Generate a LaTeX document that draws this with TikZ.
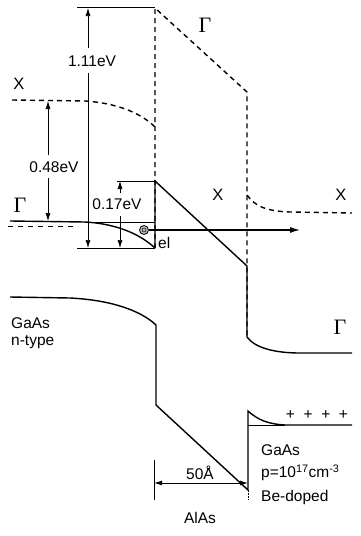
\documentclass[tikz,border=0pt]{standalone}
\usepackage{fontspec}
\setmainfont{Liberation Sans}
\newfontfamily\gfont{Liberation Serif}
\usetikzlibrary{arrows.meta}
\begin{document}
\begin{tikzpicture}[x=1pt,y=-1pt,
  band/.style={line width=1.4pt},
  dband/.style={line width=1.4pt,dash pattern=on 5pt off 4pt},
  thin/.style={line width=0.7pt},
  dim/.style={line width=0.7pt,-{Latex[length=8pt,width=5pt]}},
  lbl/.style={font=\fontsize{15.5}{17}\selectfont,inner sep=0pt},
  xlbl/.style={font=\fontsize{16.5}{18}\selectfont,inner sep=0pt},
  glbl/.style={font=\gfont\fontsize{22}{23}\selectfont,inner sep=0pt}]
\useasboundingbox (0,0) rectangle (360,536);
\coordinate (topL) at (77,7);
\coordinate (topR) at (155,7);
% ---- conduction band ----
\draw[band] (10,221) -- (85,222) .. controls (120,224) and (142,236) .. (155,248);
\draw[thin] (85,222) -- (155,222);
\draw[line width=1pt,dash pattern=on 5pt off 5pt] (8,226) -- (78,226);
\draw[dband] (12,100) -- (85,101) .. controls (115,103) and (140,112) .. (155,127);
\draw[thin] (topL) -- (topR);
\draw[dband] (155,248) -- (155,8) -- (247,92) -- (247,337);
\draw[band] (155,248) -- (155,181) -- (247,266) -- (247,337)
  .. controls (255,348) and (275,353) .. (300,353) -- (352,353);
\draw[dband] (247,195) .. controls (255,206) and (265,211) .. (290,212) -- (352,213);
\draw[thin] (77,248) -- (155,248);
\draw[thin] (117,181) -- (155,181);
% electron and arrow
\node[circle,draw,line width=0.8pt,fill=gray!55,minimum size=9pt,inner sep=0pt] (el) at (144,230) {};
\draw[line width=0.5pt] (el.center) circle (2pt);
\draw[line width=1.2pt,-{Latex[length=10pt,width=6pt]}] (el.east) -- (300,230);
\node[lbl,anchor=west] (ellbl) at (158,243) {el};
% energy arrows
\draw[dim] (88,48) -- (88,8);
\draw[dim] (88,73) -- (88,248);
\node[lbl] (e111) at (92,61) {1.11eV};
\draw[dim] (48,155) -- (48,101);
\draw[dim] (48,178) -- (48,221);
\node[lbl] (e048) at (54,167) {0.48eV};
\draw[dim] (120,193) -- (120,181);
\draw[dim] (120,216) -- (120,248);
\node[lbl] (e017) at (117,204) {0.17eV};
% ---- valence band ----
\draw[band] (10,297) -- (70,298) .. controls (110,300) and (140,310) .. (156,325)
  -- (156,405) -- (248,490) -- (248,411) .. controls (258,420) and (268,424) .. (285,425) -- (352,425);
\draw[thin] (248,425) -- (285,425);
\node[lbl] (plus) at (317,415) {+\ \ +\ \ +\ \ +};
% width marker
\draw[thin] (154,460) -- (154,500);
\draw[thin,dash pattern=on 2pt off 1pt] (248,490) -- (248,500);
\draw[line width=0.9pt,{Latex[length=8pt,width=5pt]}-{Latex[length=8pt,width=5pt]}] (154,483) -- (248,483);
\node[lbl] (w50) at (200,473) {50\AA};
\node[lbl] (alas) at (200,518) {AlAs};
% labels
\node[glbl] (gL) at (20,205) {Γ};
\node[xlbl] (xL) at (19,84) {X};
\node[glbl] (gT) at (205,25) {Γ};
\node[xlbl] (xM) at (218,195) {X};
\node[xlbl] (xR) at (341,195) {X};
\node[glbl] (gR) at (340,327) {Γ};
\node[lbl,anchor=west] (gaasL) at (11,323) {GaAs};
\node[lbl,anchor=west] (ntype) at (11,342) {n-type};
\node[lbl,anchor=west] (gaasR) at (261,450) {GaAs};
\node[lbl,anchor=west] (pdop) at (261,473) {p=10\textsuperscript{17}cm\textsuperscript{-3}};
\node[lbl,anchor=west] (bedop) at (261,497) {Be-doped};
\end{tikzpicture}
\end{document}
